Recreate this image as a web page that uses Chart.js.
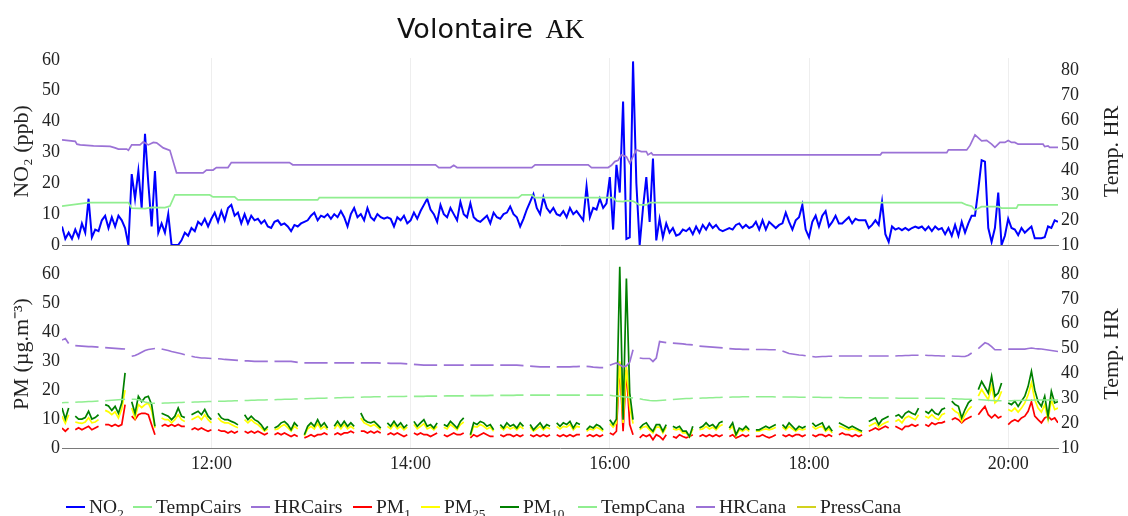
<!DOCTYPE html>
<html>
<head>
<meta charset="utf-8">
<script src="https://cdn.jsdelivr.net/npm/chart.js@4.4.1/dist/chart.umd.min.js"></script>
<style>
  html, body { margin: 0; padding: 0; background: #fff; overflow: hidden; }
  #wrap { position: relative; width: 1128px; height: 516px; overflow: hidden; }
  canvas { position: absolute; left: 0; }
  #top { top: 0; }
  #bottom { top: 240px; }
  #title { position: absolute; left: 397px; top: 15px; font: 27px/27px 'DejaVu Sans'; color: #111; white-space: nowrap; }
  #title .serif { font-family: 'Liberation Serif'; margin-left: 4px; }
  #legend { position: absolute; left: 0; top: 497px; width: 1128px; height: 20px;
            font: 19.5px 'Liberation Serif'; color: #222; white-space: nowrap; }
  #legend .item { position: absolute; top: 0; height: 20px; display: flex; align-items: center; }
  #legend .swatch { display: inline-block; width: 19px; height: 2px; margin-right: 4px; }
  #legend sub { font-size: 68%; line-height: 0; vertical-align: -0.35em; }
</style>
</head>
<body>
<div id="wrap">
  <canvas id="top" width="1128" height="260"></canvas>
  <canvas id="bottom" width="1128" height="276"></canvas>
  <div id="title">Volontaire <span class="serif">AK</span></div>
  <div id="legend"></div>
</div>
<script>
// time in minutes since midnight
const tMin = 630, tMax = 1230;
const tickTimes = [720, 840, 960, 1080, 1200];

// NO2 (ppb), one value every 2 minutes from 10:30
const no2Start = 630, no2Step = 2;
const no2 = [
  6, 2, 4, 2, 5, 2.5, 7, 4, 15, 2.5,
  5, 4.5, 8, 9.5, 5.5, 9, 6, 9.5, 8, 5.5,
  0, 23, 15, 24, 12, 36, 20, 6, 24, 4,
  7, 4, 10, 0, 0, 0, 1.5, 4, 3, 5.5,
  4.5, 7.5, 6.5, 8.5, 6, 8.5, 10.5, 7.5, 11, 8,
  12, 13, 9.5, 10.5, 7, 10, 7, 9.5, 8, 8.5,
  7, 8, 6, 5.5, 7.5, 8, 6.5, 7, 6, 4.5,
  6.5, 6, 7, 7.5, 8, 9.5, 10.5, 8, 9.5, 9,
  10, 8.5, 10, 9, 11, 9, 6, 10, 12, 9,
  10, 8, 12, 9, 8, 10, 9, 8.5, 9, 8.5,
  6, 9, 8, 9.5, 7, 8, 10.5, 8.5, 11, 13,
  15, 11.5, 10, 7.5, 13, 10, 9, 12, 10, 8,
  14, 10, 9, 13.5, 9, 8, 7.5, 8.5, 9.5, 7,
  10.5, 9, 8.5, 10, 10.5, 12.5, 10, 9, 6, 8.5,
  11.5, 14, 16.5, 12, 10, 15.5, 12, 10.5, 12, 10,
  9.5, 11, 9, 12, 10, 11, 9.5, 8, 19, 9,
  12, 11.5, 15, 12, 13.5, 22, 5, 26, 17, 46.5,
  2, 2.5, 59.5, 20, 0, 12, 22, 7.5, 28, 1.5,
  8.5, 2.5, 7, 4, 5.5, 3, 3.5, 5, 4.5, 5.5,
  3.5, 6, 4, 6.5, 5, 7, 5.5, 6.5, 5, 4.5,
  5, 5.5, 5, 6.5, 7, 5.5, 6.5, 5.5, 6, 7.5,
  5, 8, 5, 7.5, 6.5, 5.5, 6.5, 7, 10.5, 7.5,
  5, 8, 9, 13, 5, 2.5, 7.5, 9.5, 6, 9.5,
  11, 6, 7.5, 9.5, 7, 7, 8, 9, 7, 8.5,
  8, 8, 8, 5.5, 6.5, 8, 6.5, 14, 3.5, 1,
  6, 5, 5.5, 4.8, 5.5, 4.8, 5.5, 6, 5.5, 6,
  4.8, 6, 4.5, 6, 5, 5.5, 3.5, 5.5, 3, 6.5,
  3, 7.5, 4, 7, 9.5, 9.5, 18, 27.5, 27, 5.5,
  1, 5.5, 17, 0, 3, 8.5, 5.5, 5, 3.2, 5.5,
  4, 5, 6, 2.2, 2.2, 2.2, 2.5, 6, 5.5, 8,
  7.5
];

// Cairs temperature / humidity, logged on change
const tempCairsTimes = [630, 646, 670, 672, 680, 684, 692, 695, 698, 719, 721, 734, 736, 784, 785, 905, 907, 913, 915, 962,
  964, 968, 970, 974, 978, 982, 984, 1172, 1175, 1178, 1180, 1184, 1194, 1196, 1205, 1206, 1230];
const tempCairs = [25.6, 27, 27, 24.8, 24.6, 25.1, 25, 25.6, 30.1, 30.1, 29.3, 29.3, 28.1, 28.1, 29, 29, 30.1, 30.1, 29, 29,
  27.6, 27.4, 27.8, 27.6, 26.1, 26.1, 27, 27, 26.1, 25.6, 24.1, 25.4, 25.4, 24.8, 24.8, 26.1, 26.1];

const hrCairsTimes = [630, 638, 639, 641, 649, 659, 662, 664, 669, 670, 672, 677, 679, 682, 685, 687, 691, 695, 699, 715,
  717, 721, 723, 730, 732, 767, 769, 855, 857, 864, 866, 868, 913, 915, 947, 949, 959, 961, 963, 965,
  967, 970, 972, 976, 979, 982, 983, 985, 986, 1123, 1124, 1163, 1164, 1175, 1177, 1180, 1184, 1187, 1190, 1192,
  1195, 1198, 1200, 1202, 1204, 1206, 1221, 1222, 1224, 1225, 1230];
const hrCairs = [52.2, 51.6, 50.5, 50.2, 49.8, 49.6, 49, 48.5, 48.5, 48, 50.2, 50.2, 51.4, 50.2, 51.2, 51, 49, 48, 39, 39,
  40.1, 40.1, 41.1, 41.1, 43.1, 43.1, 42.2, 42.2, 41.1, 41.1, 42, 41.1, 41.1, 42.2, 42.2, 41.1, 41.1, 42, 43.5, 44,
  46.2, 45.5, 42.9, 48.2, 47.5, 47.5, 46.2, 47, 46.2, 46.2, 47.1, 47.1, 48.2, 48.2, 50, 54.2, 51.8, 52, 50.5, 49.2,
  51.2, 51.2, 52, 51.2, 51.2, 50.5, 50.5, 49.5, 49.8, 49.2, 49.2];

// Cana sensor, every 2 minutes from 10:30, null = no sample
const canaStart = 630, canaStep = 2;
const pm1 = [
  6.9, 5.8, 6.9, null, 6.3, 7, 6.3, 6.9, 7.5, 6.3,
  6.9, 7.5, null, 8.1, 8.1, 7.5, 8.1, 7.5, 8.1, 15,
  null, 11, 9.8, 11.5, 12, 12, 11.5, 8, 4.6, null,
  7.5, 8.1, 7.5, 8.1, 7.5, 8.1, 7.5, 7.5, null, 6.3,
  6.9, 6.3, 6.9, 6.3, 5.8, 6.3, null, 6.3, 5.8, 5.8,
  5.2, 5.8, 5.2, 5.8, null, 5.8, 5.2, 5.8, 5.2, 5.8,
  5.2, 4.6, 5.2, null, 4.6, 5.2, 4.6, 5.2, 4.6, 4,
  4.6, 4, null, 3.5, 4, 4.6, 4, 4.6, 4.6, 5.2,
  4.6, null, 4.6, 5.2, 4.6, 5.2, 5.2, 5.8, 5.2, null,
  5.8, 5.8, 5.2, 5.8, 5.2, 5.8, 5.2, null, 4.6, 5.2,
  4.6, 5.2, 4.6, 4, 4.6, null, 5.2, 4.6, 5.2, 4.6,
  4.6, 4, 4.6, 5.2, null, 4.6, 4, 4.6, 5.2, 4.6,
  4.6, 5.2, null, 3.5, 4.6, 4, 4.6, 5.2, 4.6, 4,
  4, null, 4.6, 4, 4.6, 4.6, 4, 4.6, 4, 4.6,
  null, 4.6, 4, 4.6, 4, 4.6, 4, 4.6, null, 4.6,
  4, 4.6, 4, 4.6, 4, 4.6, 4.6, null, 4, 4.6,
  4, 4.6, 4, 4.6, null, 5.2, 4.6, 5.8, 29.4, 5.8,
  27, 8.1, 4.6, null, 3.5, 4.6, 4, 4.6, 2.9, 4.6,
  4, 2.9, 4.6, null, 4, 3.5, 4.6, 4, 3.5, 4,
  4.6, null, 4, 4.6, 4, 4.6, 4, 4.6, 4, 4.6,
  null, 4, 4.6, 3.5, 4, 4.6, 4, 4.6, null, 4,
  4, 4.6, 4, 3.5, 4, 4.6, null, 4.6, 4, 4.6,
  4, 4.6, 4.6, 4, 4.6, null, 4.6, 4, 4.6, 4.6,
  4, 4.6, 4, null, 4.6, 5.2, 4.6, 4.6, 4, 4.6,
  4, 4.6, null, 5.8, 6.3, 6.9, 6.3, 6.9, 7.5, 6.9,
  null, 7.5, 6.9, 6.3, 7.5, 7.5, 8.1, 7.5, 8.1, null,
  8.1, 7.5, 8.7, 8.1, 8.7, 8.7, 9.2, null, 9.8, 10.4,
  9.8, 8.7, 9.8, 10.4, 11, null, 11.5, 13, 14.4, 11.5,
  10.4, 11.5, 10.4, 11, null, 8.1, 9.2, 9.8, 9.2, 10.4,
  11, 12.7, 16, 11, 9.8, 8.7, 10.4, 11, 9.8, 10.4,
  8.7
];
const pm25 = [
  11, 8.5, 11.5, null, 9, 8.7, 8.5, 9, 10.5, 8.7,
  9, 9.8, null, 13, 12.5, 11.5, 12.5, 10.4, 13.5, 20,
  null, 13.8, 10.4, 15, 14, 15, 15.6, 13, 6.9, null,
  10.4, 9.8, 9.8, 8.7, 9.8, 11.5, 9.8, 9.2, null, 9.8,
  10.4, 11, 9.8, 11.5, 9.8, 8.7, null, 10.4, 9.2, 8.7,
  8.7, 8.1, 7.5, 7, null, 9.8, 8.7, 9.8, 8.7, 8.1,
  7, 5.8, 6.6, null, 6.3, 6.6, 7.5, 8.1, 7, 5.8,
  7.5, 6.6, null, 4.2, 6.6, 7.5, 6.6, 8.4, 6.6, 7.5,
  6.3, null, 6.6, 8.1, 6.6, 8.1, 6.6, 7.5, 6.6, null,
  10.4, 8.7, 8.1, 7.5, 8.1, 7.2, 6.3, null, 7.5, 6.6,
  8.1, 6.6, 7.5, 6.3, 7.2, null, 8.1, 6.6, 7.5, 8.4,
  6.6, 7.2, 6.3, 7.5, null, 7.2, 6.6, 8.1, 7.2, 6.3,
  8.1, 9, null, 4.2, 7.5, 7.2, 8.1, 7.5, 6.6, 7.2,
  5.8, null, 7.2, 6.3, 7.5, 6.6, 7.2, 6.3, 7.5, 6.6,
  null, 7.2, 5.8, 6.6, 7.5, 6.3, 7.2, 6.6, null, 7.5,
  6.6, 7.5, 7.2, 8.1, 6.3, 7.5, 7.2, null, 5.8, 6.6,
  6.3, 7.2, 6.6, 5.8, null, 8.4, 7.2, 8.7, 30, 8.7,
  28, 14.4, 8.4, null, 6.3, 7.2, 7.5, 6.3, 5.2, 7.2,
  7.2, 5.2, 7.2, null, 6.6, 6.3, 6.6, 5.2, 5.2, 3.8,
  6.6, null, 6.3, 6.6, 7.5, 6.6, 7.2, 6.3, 7.5, 8.1,
  null, 6.3, 7.5, 4.2, 6.3, 5.8, 6.6, 5.8, null, 5.8,
  5.8, 6.3, 6.6, 6.3, 6.6, 7.2, null, 7.2, 6.3, 7.5,
  6.6, 5.8, 6.6, 6.3, 6.6, null, 7.5, 6.6, 7.2, 7.5,
  5.8, 6.6, 5.2, null, 7.5, 7.2, 6.6, 6.3, 6.6, 6.3,
  5.8, 5.2, null, 7.5, 8.1, 8.7, 7.2, 8.1, 8.7, 9.2,
  null, 9.2, 9.8, 8.7, 10.4, 11, 10.4, 9.8, 11.5, null,
  11, 10.4, 11.5, 10.4, 9.8, 11.5, 12, null, 13.8, 12.7,
  12, 9.2, 11.5, 13.3, 14.4, null, 17.9, 20.2, 18.4, 16.7,
  21.3, 15.6, 16.7, 19.6, null, 13.3, 12.7, 13.8, 12.4, 13.8,
  15.6, 18.4, 22.5, 16.7, 13.8, 12.4, 15, 9.8, 16.7, 13.3,
  13.8
];
const pm10 = [
  13.8, 10, 13.8, null, 11, 10, 10, 10.5, 12.7, 10,
  10.5, 11.5, null, 15, 14.5, 13, 14.4, 12, 15.6, 26,
  null, 16, 12, 17.9, 16, 17.5, 17.9, 15, 7.5, null,
  12, 11.5, 11, 9.8, 11, 13.8, 11, 10.5, null, 11.5,
  12.1, 12.7, 11.5, 13.3, 11, 9.8, null, 12, 10.4, 9.8,
  9.8, 9.2, 8.7, 8, null, 11.5, 9.8, 11, 9.8, 9.2,
  8, 6.3, 7.5, null, 6.9, 7.5, 8.7, 9.2, 8.1, 6.3,
  8.7, 7.5, null, 4.6, 7.5, 8.7, 7.5, 9.8, 7.5, 8.7,
  6.9, null, 7.5, 9.2, 7.5, 9.2, 7.5, 8.7, 7.5, null,
  12.1, 9.8, 9, 8.7, 9.2, 8.1, 6.9, null, 8.7, 7.5,
  9.2, 7.5, 8.7, 7, 8.1, null, 9.2, 7.5, 8.7, 9.8,
  7.5, 8.1, 6.9, 8.7, null, 8.1, 7.5, 9.2, 8.1, 6.9,
  9.2, 10.4, null, 4.6, 8.7, 8.1, 9.2, 8.7, 7.5, 8.1,
  6.3, null, 8.1, 6.9, 8.7, 7.5, 8.1, 6.9, 8.7, 7.5,
  null, 8.1, 6.3, 7.5, 8.7, 6.9, 8.1, 7.5, null, 8.7,
  7.5, 8.7, 8.1, 9.2, 6.9, 8.7, 8.1, null, 6.3, 7.5,
  6.9, 8.1, 7.5, 6.3, null, 9.8, 8.1, 10, 62.7, 9.8,
  58.6, 19, 9.8, null, 6.9, 8.1, 8.7, 7, 5.8, 8.1,
  8.1, 5.8, 8.1, null, 7.5, 6.9, 7.5, 5.8, 5.8, 4,
  7.5, null, 6.9, 7.5, 8.7, 7.5, 8.1, 6.9, 8.7, 9.2,
  null, 6.9, 8.7, 4.6, 6.9, 6.3, 7.5, 6.3, null, 6.3,
  6.3, 6.9, 7.5, 6.9, 7.5, 8.1, null, 8.1, 6.9, 8.7,
  7.5, 6.3, 7.5, 6.9, 7.5, null, 8.7, 7.5, 8.1, 8.7,
  6.3, 7.5, 5.8, null, 8.7, 8.1, 7.5, 6.9, 7.5, 6.9,
  6.3, 5.8, null, 9.2, 9.8, 10.4, 8.1, 9.8, 10.4, 11,
  null, 11, 11.5, 10.4, 12, 12.7, 12, 11.5, 13.8, null,
  12.7, 12, 13.3, 12, 11.5, 13.3, 13.8, null, 16.2, 15,
  14.4, 10.4, 13.3, 15.6, 16.7, null, 20.2, 23, 21, 19,
  24.8, 17.9, 19, 22.5, null, 15.6, 15, 16.2, 14.4, 16.2,
  17.9, 21.3, 26.5, 20, 16, 14.4, 17.9, 11, 19.6, 15.6,
  16
];
const tempCana = [
  28.2, 28.3, 28.3, null, 28.4, 28.5, 28.5, 28.6, 28.7, 28.7,
  28.8, 28.9, null, 29.0, 29.1, 29.2, 29.3, 29.4, 29.5, 29.6,
  null, 29.6, 29.6, 29.4, 29.0, 28.5, 28.2, 28.0, 28.0, null,
  28.0, 28.1, 28.1, 28.2, 28.2, 28.3, 28.3, 28.4, null, 28.4,
  28.5, 28.5, 28.6, 28.6, 28.7, 28.7, null, 28.8, 28.8, 28.8,
  28.9, 28.9, 29.0, 29.0, null, 29.1, 29.1, 29.2, 29.2, 29.3,
  29.3, 29.3, 29.4, null, 29.4, 29.5, 29.5, 29.6, 29.6, 29.6,
  29.7, 29.7, null, 29.8, 29.8, 29.9, 29.9, 30.0, 30.0, 30.0,
  30.1, null, 30.1, 30.2, 30.2, 30.3, 30.3, 30.3, 30.4, null,
  30.4, 30.5, 30.5, 30.5, 30.6, 30.6, 30.6, null, 30.6, 30.7,
  30.7, 30.7, 30.7, 30.7, 30.8, null, 30.8, 30.8, 30.8, 30.8,
  30.9, 30.9, 30.9, 30.9, null, 30.9, 31.0, 31.0, 31.0, 31.0,
  31.0, 31.0, null, 31.1, 31.1, 31.1, 31.1, 31.1, 31.1, 31.2,
  31.2, null, 31.2, 31.2, 31.2, 31.2, 31.2, 31.3, 31.3, 31.3,
  null, 31.3, 31.3, 31.3, 31.3, 31.3, 31.3, 31.3, null, 31.3,
  31.3, 31.3, 31.3, 31.3, 31.3, 31.3, 31.3, null, 31.3, 31.3,
  31.3, 31.3, 31.3, 31.3, null, 31.2, 31.0, 30.9, 30.8, 30.6,
  30.5, 30.3, 30.1, null, 29.8, 29.5, 29.3, 29.1, 29.0, 29.0,
  29.1, 29.2, 29.3, null, 29.5, 29.6, 29.7, 29.8, 29.9, 29.9,
  30.0, null, 30.0, 30.1, 30.1, 30.2, 30.2, 30.3, 30.3, 30.4,
  null, 30.4, 30.5, 30.5, 30.5, 30.6, 30.6, 30.6, null, 30.6,
  30.6, 30.6, 30.6, 30.6, 30.6, 30.5, null, 30.5, 30.5, 30.5,
  30.5, 30.5, 30.4, 30.4, 30.4, null, 30.4, 30.4, 30.4, 30.3,
  30.3, 30.3, 30.3, null, 30.3, 30.3, 30.2, 30.2, 30.2, 30.2,
  30.2, 30.2, null, 30.2, 30.1, 30.1, 30.1, 30.1, 30.1, 30.1,
  null, 30.1, 30.0, 30.0, 30.0, 30.0, 30.0, 30.0, 30.0, null,
  30.0, 30.0, 30.0, 30.0, 30.0, 30.0, 29.9, null, 29.8, 29.8,
  29.7, 29.7, 29.6, 29.6, 29.6, null, 29.5, 29.4, 29.3, 29.2,
  29.1, 29.1, 29.0, 29.0, null, 29.0, 29.0, 29.1, 29.1, 29.1,
  29.2, 29.2, 29.2, 29.3, 29.3, 29.3, 29.3, 29.3, 29.3, 29.3,
  29.3
];
const hrCana = [
  53.4, 54.0, 52.0, null, 51.2, 51.1, 51.0, 50.9, 50.8, 50.8,
  50.7, 50.6, null, 50.4, 50.3, 50.2, 50.1, 50.0, 49.9, 49.8,
  null, 46.9, 47.2, 47.8, 48.5, 49.2, 49.6, 49.8, 50.0, null,
  49.8, 49.5, 49.2, 48.8, 48.5, 48.2, 47.9, 47.5, null, 46.9,
  46.6, 46.4, 46.2, 46.2, 46.1, 46.0, null, 45.9, 45.8, 45.6,
  45.5, 45.4, 45.3, 45.2, null, 45.0, 45.0, 44.9, 44.8, 44.8,
  44.8, 44.8, 44.8, null, 44.8, 44.8, 44.8, 44.8, 44.8, 44.8,
  44.6, 44.4, null, 44.2, 44.2, 44.2, 44.2, 44.2, 44.2, 44.2,
  44.2, null, 44.2, 44.2, 44.2, 44.2, 44.2, 44.2, 44.2, null,
  44.2, 44.2, 44.2, 44.2, 44.2, 44.2, 44.1, null, 44.1, 44.0,
  44.0, 44.0, 44.0, 43.9, 43.8, null, 43.6, 43.5, 43.4, 43.3,
  43.3, 43.3, 43.3, 43.3, null, 43.3, 43.3, 43.3, 43.3, 43.3,
  43.3, 43.3, null, 43.3, 43.3, 43.3, 43.3, 43.3, 43.3, 43.3,
  43.3, null, 43.3, 43.3, 43.3, 43.3, 43.3, 43.3, 43.2, 43.1,
  null, 42.9, 42.8, 42.7, 42.6, 42.6, 42.6, 42.6, null, 42.6,
  42.6, 42.6, 42.6, 42.6, 42.7, 42.7, 42.8, null, 42.8, 42.7,
  42.5, 42.4, 42.3, 42.3, null, 43.3, 43.8, 44.2, 43.5, 42.6,
  43.0, 44.5, 49.5, null, 46.2, 46.0, 46.0, 46.0, 44.8, 46.2,
  52.8, 52.6, 52.4, null, 52.2, 52.1, 52.0, 51.9, 51.7, 51.6,
  51.5, null, 51.0, 50.9, 50.8, 50.7, 50.6, 50.5, 50.4, 50.3,
  null, 50.0, 49.9, 49.8, 49.8, 49.7, 49.7, 49.7, null, 49.6,
  49.6, 49.6, 49.6, 49.5, 49.5, 49.5, null, 49.0, 48.5, 48.0,
  47.8, 47.6, 47.4, 47.3, 47.1, null, 46.8, 46.6, 46.7, 46.8,
  46.8, 46.9, 46.9, null, 47.0, 47.0, 47.0, 47.0, 47.0, 47.0,
  47.0, 47.0, null, 47.0, 47.0, 47.0, 47.0, 47.0, 47.0, 47.0,
  null, 47.0, 47.1, 47.1, 47.2, 47.2, 47.3, 47.3, 47.3, null,
  47.3, 47.2, 47.2, 47.1, 47.1, 47.0, 47.0, null, 47.0, 46.9,
  46.9, 46.8, 46.8, 47.3, 48.2, null, 50.0, 51.2, 52.3, 51.8,
  50.8, 49.5, 49.5, 49.5, null, 49.8, 49.8, 49.8, 49.8, 49.8,
  49.8, 50.0, 50.2, 50.0, 49.9, 49.8, 49.6, 49.4, 49.2, 49.0,
  48.8
];
const pressCana = [];

const serif = 'Liberation Serif';
const textColor = '#222';

// left edge of each legend entry, in legend order
const legendX = [66, 133, 251, 353, 421, 500, 578, 696, 797];

const fmtTime = v => Math.floor(v / 60) + ':' + String(v % 60).padStart(2, '0');
const sampled = (start, step, values) => values.map((v, i) => ({ x: start + i * step, y: v }));
const paired = (times, values) => times.map((t, i) => ({ x: t, y: values[i] }));

function line(label, data, color, yAxisID, order, width) {
  return {
    label, data, yAxisID, order,
    borderColor: color, backgroundColor: color,
    borderWidth: width || 1.7, pointRadius: 0, tension: 0, spanGaps: false, fill: false
  };
}

function timeAxis(showLabels, height) {
  return {
    type: 'linear', min: tMin, max: tMax,
    afterBuildTicks: s => { s.ticks = tickTimes.map(v => ({ value: v })); },
    afterFit: s => { s.height = height; },
    grid: { color: '#eeeeee', drawTicks: false },
    border: { display: true, color: '#7a7a7a' },
    ticks: { display: showLabels, padding: 5, maxRotation: 0, autoSkip: false, callback: fmtTime,
             color: textColor, font: { family: serif, size: 18 } }
  };
}

// ticks every 10 units inside the axis range
function tensBetween(s) {
  const out = [];
  for (let v = Math.ceil(s.min / 10) * 10; v <= s.max; v += 10) out.push({ value: v });
  s.ticks = out;
}

function valueAxis(position, min, max, title) {
  const axis = {
    type: 'linear', position, min, max,
    afterBuildTicks: tensBetween,
    afterFit: s => { s.width = position === 'left' ? 62 : 70; },
    grid: { display: false, drawTicks: false },
    border: { display: false },
    ticks: { padding: position === 'left' ? 2 : 3, color: textColor, font: { family: serif, size: 18 } }
  };
  if (title) {
    axis.title = { display: true, text: title, color: textColor, font: { family: serif, size: 22 }, padding: { top: 9, bottom: 0 } };
  }
  return axis;
}

// right-hand axis title, reading bottom to top like the left one
const sideTitle = {
  id: 'sideTitle',
  afterDraw(chart, args, opts) {
    const { ctx, chartArea } = chart;
    ctx.save();
    ctx.translate(1118, (chartArea.top + chartArea.bottom) / 2);
    ctx.rotate(-Math.PI / 2);
    ctx.font = '22px "' + serif + '"';
    ctx.fillStyle = textColor;
    ctx.textAlign = 'center';
    ctx.textBaseline = 'alphabetic';
    ctx.fillText(opts.text, 0, 0);
    ctx.restore();
  }
};

const baseOptions = {
  animation: false, responsive: false, devicePixelRatio: 1,
  plugins: { legend: { display: false }, tooltip: { enabled: false }, sideTitle: { text: 'Temp. HR' } }
};

const purple = '#9b72d6';
const lightGreen = '#90ee90';

const topChart = new Chart(document.getElementById('top'), {
  type: 'line',
  data: {
    datasets: [
      line('NO<sub>2</sub>', sampled(no2Start, no2Step, no2), '#0000ff', 'yNo2', 0, 2),
      line('TempCairs', paired(tempCairsTimes, tempCairs), lightGreen, 'yTH', -1),
      line('HRCairs', paired(hrCairsTimes, hrCairs), purple, 'yTH', -2)
    ]
  },
  options: {
    ...baseOptions,
    layout: { padding: { top: 58, left: 0, right: 0, bottom: 0 } },
    scales: {
      x: timeAxis(false, 15),
      yNo2: valueAxis('left', 0, 60.6, 'NO₂ (ppb)'),
      yTH: valueAxis('right', 10, 85.1)
    }
  },
  plugins: [sideTitle]
});

const bottomChart = new Chart(document.getElementById('bottom'), {
  type: 'line',
  data: {
    datasets: [
      line('PM<sub>1</sub>', sampled(canaStart, canaStep, pm1), '#ff0000', 'yPm', 0),
      line('PM<sub>25</sub>', sampled(canaStart, canaStep, pm25), '#ffff00', 'yPm', -1),
      line('PM<sub>10</sub>', sampled(canaStart, canaStep, pm10), '#008000', 'yPm', -2),
      line('TempCana', sampled(canaStart, canaStep, tempCana), lightGreen, 'yTH', -3),
      line('HRCana', sampled(canaStart, canaStep, hrCana), purple, 'yTH', -4),
      line('PressCana', pressCana, '#d2d21e', 'yTH', -5)
    ]
  },
  options: {
    ...baseOptions,
    layout: { padding: { top: 20, left: 0, right: 0, bottom: 0 } },
    scales: {
      x: timeAxis(true, 68),
      yPm: valueAxis('left', 0, 65, 'PM (µg.m⁻³)'),
      yTH: valueAxis('right', 10, 85.6)
    }
  },
  plugins: [sideTitle]
});

// shared legend under both panels
const legend = document.getElementById('legend');
[...topChart.data.datasets, ...bottomChart.data.datasets].forEach((ds, i) => {
  const item = document.createElement('span');
  item.className = 'item';
  item.style.left = legendX[i] + 'px';
  item.innerHTML = '<span class="swatch" style="background:' + ds.borderColor + '"></span><span>' + ds.label + '</span>';
  legend.appendChild(item);
});
</script>
</body>
</html>
